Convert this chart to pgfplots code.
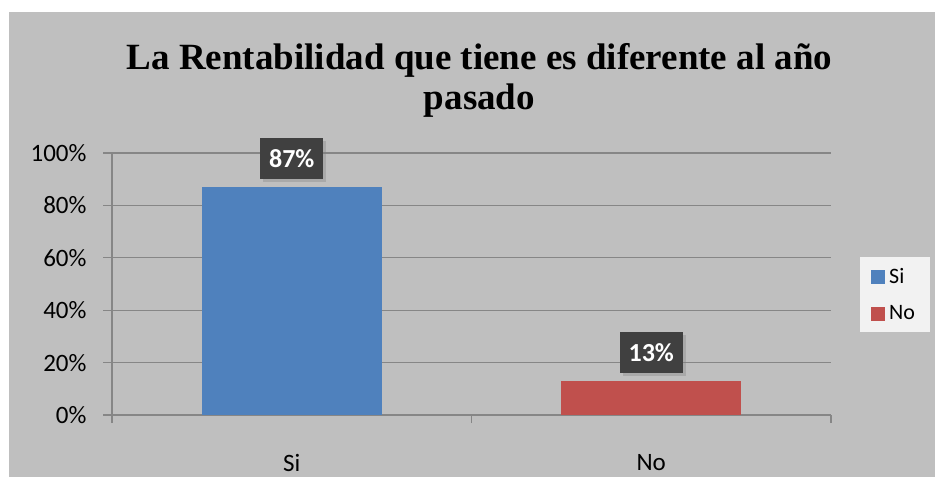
\documentclass[border=0pt]{standalone}
\usepackage{fontspec}
\setmainfont{Carlito}
\newfontfamily\titlefont{Liberation Serif}
\usepackage{pgfplots}
\pgfplotsset{compat=1.18}
\usetikzlibrary{shadows}

\definecolor{bggray}{HTML}{BFBFBF}
\definecolor{gridgray}{HTML}{868686}
\definecolor{barblue}{HTML}{4F81BD}
\definecolor{barred}{HTML}{C0504D}
\definecolor{lblbox}{HTML}{404040}
\definecolor{legbg}{HTML}{F2F2F2}

\begin{document}
\begin{tikzpicture}[x=1pt,y=1pt]
\fill[white] (0,0) rectangle (935,477);
\fill[bggray] (9,0) rectangle (935,465);

% title, two lines
\node[anchor=base, inner sep=0pt, font=\titlefont\fontsize{37}{40}\selectfont\bfseries] at (479.5,407) {La Rentabilidad que tiene es diferente al año};
\node[anchor=base, inner sep=0pt, font=\titlefont\fontsize{37}{40}\selectfont\bfseries] at (479.5,367) {pasado};

\begin{axis}[
  at={(112pt,62pt)}, anchor=south west,
  scale only axis,
  width=719pt, height=262pt,
  xmin=-0.5, xmax=1.5,
  ymin=0, ymax=100,
  /pgf/number format/assume math mode=true,
  axis x line*=bottom, axis y line*=left,
  axis line style={gridgray, line width=1.3pt},
  ymajorgrids,
  grid style={gridgray, line width=1.3pt},
  ytick={0,20,40,60,80,100},
  yticklabel={\pgfmathprintnumber{\tick}\%},
  yticklabel style={font=\fontsize{25}{30}\selectfont, anchor=east, xshift=-13pt},
  xtick={0,1},
  xticklabels={Si,No},
  xticklabel style={font=\fontsize{25}{30}\selectfont, anchor=north, inner sep=0pt,
    text depth=0pt, yshift=-30pt},
  minor xtick={-0.5,0.5,1.5},
  major x tick style={draw=none},
  minor x tick style={gridgray, line width=1.3pt},
  minor tick length=8pt,
  major y tick style={gridgray, line width=1.3pt},
  major tick length=9pt,
  tick align=outside,
  ybar, bar width=180pt, bar shift=0pt,
  point meta=y,
  nodes near coords={\pgfmathprintnumber{\pgfplotspointmeta}\%},
  nodes near coords style={font=\fontsize{26}{30}\selectfont\bfseries, text=white,
    fill=lblbox, anchor=south, yshift=8pt, minimum width=63pt, minimum height=41pt,
    inner sep=0pt, drop shadow={opacity=0.35, shadow xshift=3pt, shadow yshift=-3pt}},
  legend style={at={(1.0403,0.603)}, anchor=north west, fill=legbg, draw=none,
    font=\fontsize{22}{26}\selectfont, row sep=19pt, inner xsep=11pt, inner ysep=10pt,
    nodes={anchor=west, inner xsep=4pt, inner ysep=1pt}},
  legend cell align=left,
]
\addplot[fill=barblue, draw=none, legend image code/.code={\fill[barblue] (0pt,-7pt) rectangle (14pt,7pt);}] coordinates {(0,87)};
\addlegendentry{Si}
\addplot[fill=barred, draw=none, legend image code/.code={\fill[barred] (0pt,-7pt) rectangle (14pt,7pt);}] coordinates {(1,13)};
\addlegendentry{No}
\end{axis}
\pgfresetboundingbox
\path (0,0) rectangle (935,477);
\end{tikzpicture}
\end{document}
